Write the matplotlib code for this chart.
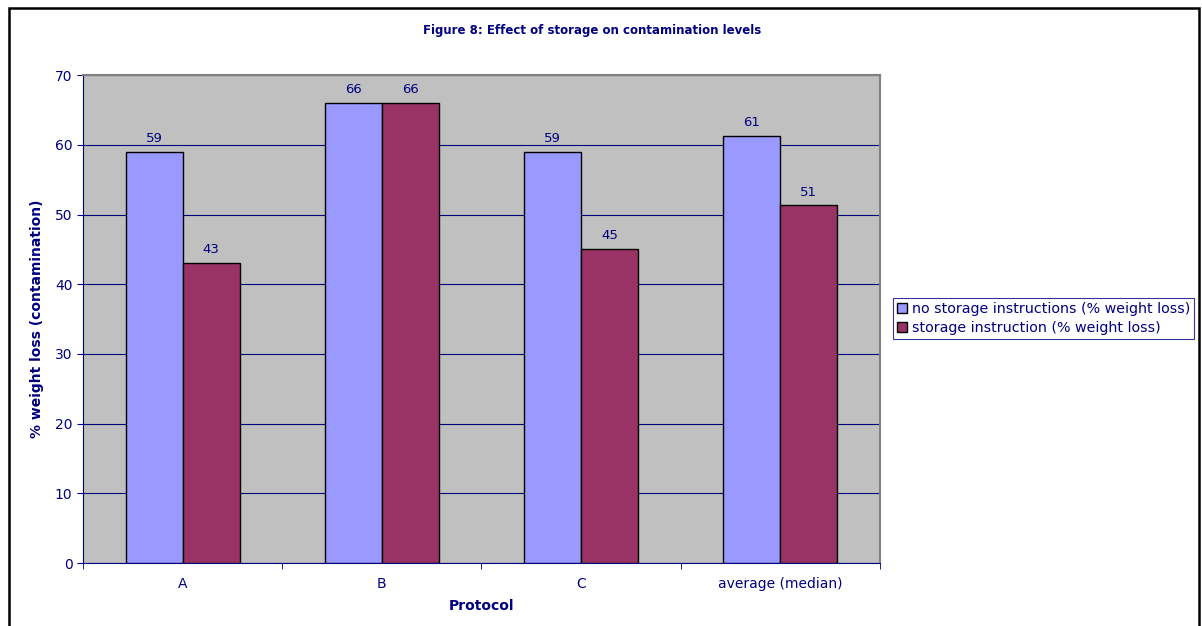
import numpy as np
import matplotlib.pyplot as plt
from matplotlib.patches import Rectangle

plt.rcParams['font.family'] = ['DejaVu Sans']

protocols = ['A', 'B', 'C', 'average (median)']
no_storage = [59, 66, 59, 61.3]
storage = [43, 66, 45, 51.3]
series_names = ['no storage instructions (% weight loss)',
                'storage instruction (% weight loss)']

navy = '#000080'
fig = plt.figure(figsize=(12.02, 6.26), dpi=100)
ax = fig.add_axes([0.069, 0.1006, 0.663, 0.7794])
ax.set_facecolor('#C0C0C0')

x = np.arange(len(protocols))
w = 0.286
b1 = ax.bar(x - w / 2, no_storage, w, color='#9999FF', edgecolor='black',
            linewidth=1, label=series_names[0], zorder=3)
b2 = ax.bar(x + w / 2, storage, w, color='#993366', edgecolor='black',
            linewidth=1, label=series_names[1], zorder=3)

for bars, vals in ((b1, no_storage), (b2, storage)):
    for rect, v in zip(bars, vals):
        ax.annotate('%.0f' % v, (rect.get_x() + rect.get_width() / 2, v),
                    xytext=(0, 5), textcoords='offset points',
                    ha='center', va='bottom', fontsize=9.5, color=navy)

ax.set_xlim(-0.5, 3.5)
ax.set_ylim(0, 70)
ax.set_yticks(range(0, 71, 10))
ax.yaxis.grid(True, color=navy, linewidth=0.8, zorder=1)
ax.set_axisbelow(True)

ax.set_xticks(x)
ax.set_xticklabels(protocols)
ax.set_xticks(np.arange(-0.5, 3.6, 1), minor=True)
ax.tick_params(axis='x', which='major', length=0, pad=10, colors=navy,
               labelsize=10)
ax.tick_params(axis='x', which='minor', length=4, color=navy)
ax.tick_params(axis='y', length=4, color=navy, labelcolor=navy,
               labelsize=10)

for side in ('left', 'bottom'):
    ax.spines[side].set_color(navy)
for side in ('top', 'right'):
    ax.spines[side].set_color('#808080')
    ax.spines[side].set_linewidth(1.5)

ax.set_ylabel('% weight loss (contamination)', fontsize=10, fontweight='bold',
              color=navy, labelpad=8)
ax.set_xlabel('Protocol', fontsize=10, fontweight='bold', color=navy,
              labelpad=6)

fig.text(0.493, 0.952, 'Figure 8: Effect of storage on contamination levels',
         ha='center', va='center', fontsize=8.5, fontweight='bold', color=navy)

leg = fig.legend(loc='upper left', bbox_to_anchor=(0.743, 0.524),
                 fontsize=10.3, frameon=True, fancybox=False,
                 handlelength=0.7, handleheight=0.7, handletextpad=0.3,
                 borderpad=0.3, labelspacing=0.3, borderaxespad=0)
leg.get_frame().set_edgecolor(navy)
leg.get_frame().set_linewidth(0.8)
for t in leg.get_texts():
    t.set_color(navy)

fig.patches.append(Rectangle((0.0075, -0.05), 0.99, 1.037,
                             transform=fig.transFigure, fill=False,
                             edgecolor='black', linewidth=1.8))

fig.savefig('out.png', dpi=100)
